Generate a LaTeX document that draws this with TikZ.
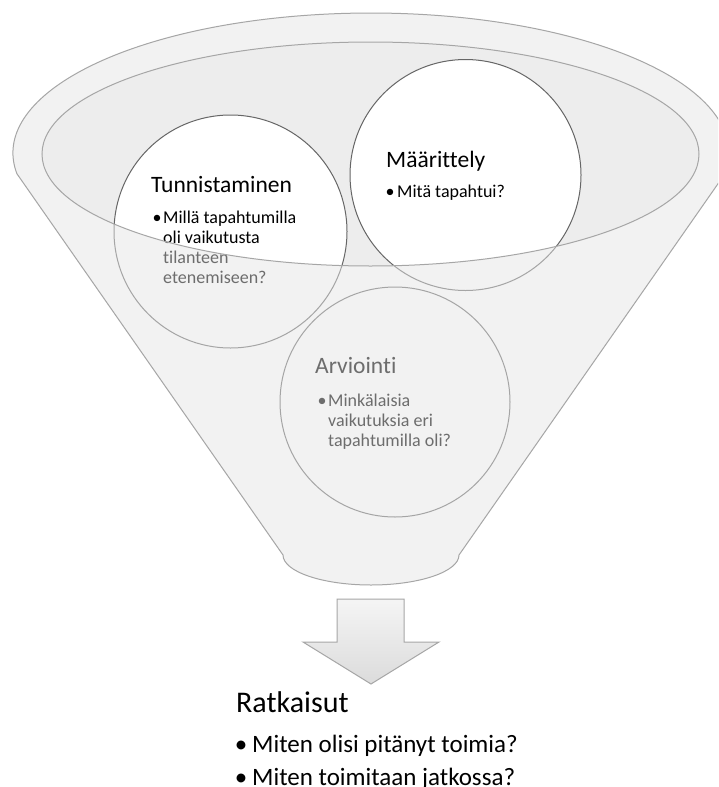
\documentclass[tikz,border=0pt]{standalone}
\usepackage{fontspec}
\setmainfont{Carlito}[Ligatures=NoCommon]
\usetikzlibrary{shadings}

% outline of the funnel: top ellipse, two slanted sides, rounded bottom
\newcommand\funnelshape{(16.9,-173.7) arc[start angle=188.5, end angle=-8.5, x radius=358, y radius=140] -- (459,-555) arc[start angle=0, end angle=-180, x radius=88, y radius=30] -- cycle}
\newcommand\funnelmouth{(370.5,-154) ellipse[x radius=328.5, y radius=112]}

\begin{document}
\begin{tikzpicture}[x=1pt,y=1pt,
  funnelline/.style={draw=black!35, line width=1pt},
  ringline/.style={draw=black!60, line width=1pt},
  ring/.style={circle, inner sep=0pt, ringline},
  stagetitle/.style={anchor=base west, inner sep=0pt, font=\fontsize{23.5}{28}\selectfont},
  % multi-line texts are placed by the baseline of their last line
  stagetext/.style={anchor=base west, inner sep=0pt, align=left, font=\fontsize{18}{20.3}\selectfont},
  stagedot/.style={anchor=base, inner sep=0pt, font=\fontsize{18}{20}\selectfont},
  resulttitle/.style={anchor=base west, inner sep=0pt, font=\fontsize{30}{36}\selectfont},
  resulttext/.style={anchor=base west, inner sep=0pt, font=\fontsize{25}{30}\selectfont},
  resultdot/.style={anchor=base, inner sep=0pt, font=\fontsize{25}{30}\selectfont},
]
\useasboundingbox (0,0) rectangle (718,-787);
\clip (0,0) rectangle (718,-787);
\fill[white] (0,0) rectangle (718,-787);

% funnel body and its mouth
\fill[black!5] \funnelshape;
\fill[black!7] \funnelmouth;

% white discs, visible only inside the mouth
\begin{scope}
  \clip \funnelmouth;
  \fill[white] (230.5,-231.5) circle[radius=116.5];
  \fill[white] (465.5,-175) circle[radius=115.5];
  \fill[white] (395,-402) circle[radius=115];
\end{scope}

% the three stages
\node[ring, minimum size=233pt] (tunn) at (230.5,-231.5) {};
\node[ring, minimum size=231pt] (maar) at (465.5,-175) {};
\node[ring, minimum size=230pt] (arvi) at (395,-402) {};

\node[stagetitle] (tunnT) at (151,-192) {Tunnistaminen};
\node[stagedot] (tunnB) at (157,-223) {•};
\node[stagetext] (tunnX) at (163,-283.9) {Millä tapahtumilla\\oli vaikutusta\\tilanteen\\etenemiseen?};

\node[stagetitle] (maarT) at (386,-167) {Määrittely};
\node[stagedot] (maarB) at (390,-197) {•};
\node[stagetext] (maarX) at (397,-197) {Mitä tapahtui?};

\node[stagetitle] (arviT) at (315,-373) {Arviointi};
\node[stagedot] (arviB) at (322,-406) {•};
\node[stagetext] (arviX) at (328,-446.6) {Minkälaisia\\vaikutuksia eri\\tapahtumilla oli?};

% translucent front of the funnel, below the mouth
\fill[black!5, fill opacity=0.45, even odd rule] \funnelshape \funnelmouth;

% outlines
\draw[funnelline] \funnelshape;
\draw[funnelline] \funnelmouth;

% downward arrow
\draw[draw=black!35, line width=1pt, top color=black!4, bottom color=black!14]
  (337,-599) -- (404,-599) -- (404,-642) -- (439,-642) -- (371,-684)
  -- (303,-642) -- (337,-642) -- cycle;

% result
\node[resulttitle] (ratkT) at (236,-712) {Ratkaisut};
\node[resultdot] (ratkB1) at (241,-752) {•};
\node[resulttext] (ratkX1) at (252,-752) {Miten olisi pitänyt toimia?};
\node[resultdot] (ratkB2) at (241,-785) {•};
\node[resulttext] (ratkX2) at (252,-785) {Miten toimitaan jatkossa?};
\end{tikzpicture}
\end{document}
